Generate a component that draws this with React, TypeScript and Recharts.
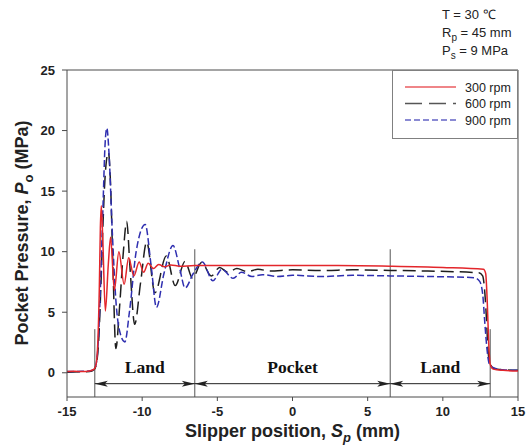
import React from 'react';
import { LineChart, Line, XAxis, YAxis, ReferenceLine, Legend } from 'recharts';

// Slipper position (mm) vs pocket pressure (MPa) for each shaft speed
const curve300: [number, number][] = [
  [-15, 0.1], [-14.5, 0.12], [-14, 0.1], [-13.5, 0.15], [-13.2, 0.3], [-13.05, 0.8],
  [-12.95, 2.5], [-12.85, 7], [-12.78, 12], [-12.72, 13.8], [-12.62, 11], [-12.45, 5.1],
  [-12.25, 9], [-12.1, 11.2], [-11.85, 6.8], [-11.55, 10.0], [-11.2, 7.3], [-10.9, 9.5],
  [-10.55, 8.0], [-10.2, 9.15], [-9.9, 8.3], [-9.6, 9.05], [-9.25, 8.6], [-8.9, 8.95],
  [-8.5, 8.75], [-8.1, 8.9], [-7.5, 8.8], [-6.5, 8.85], [-3, 8.85], [0, 8.85], [3, 8.85],
  [6.5, 8.8], [10, 8.7], [12.7, 8.55], [12.85, 8.2], [12.95, 6], [13.05, 2.5],
  [13.15, 0.7], [13.35, 0.3], [14, 0.2], [15, 0.15],
];

const curve600: [number, number][] = [
  [-15, 0.05], [-14, 0.08], [-13.5, 0.1], [-13.2, 0.25], [-13.05, 0.7], [-12.9, 2.5],
  [-12.75, 7], [-12.6, 12.5], [-12.45, 16.5], [-12.25, 18.2], [-12.1, 15.5], [-11.95, 9],
  [-11.75, 2.0], [-11.5, 5.5], [-11.25, 10], [-11.03, 12.5], [-10.8, 8.5], [-10.5, 4.0],
  [-10.1, 7.5], [-9.7, 10.8], [-9.15, 6.6], [-8.4, 9.65], [-7.8, 7.2], [-7.15, 9.2],
  [-6.65, 7.8], [-6.05, 9.1], [-5.4, 8.0], [-4.85, 8.7], [-4.3, 8.3], [-3.7, 8.6],
  [-3.0, 8.35], [-2.3, 8.55], [-1.5, 8.4], [0, 8.5], [2, 8.45], [4, 8.5], [6.5, 8.45],
  [9, 8.4], [12.4, 8.25], [12.65, 8.0], [12.8, 6.5], [12.9, 4.5], [13.0, 2.0],
  [13.12, 0.8], [13.4, 0.35], [14, 0.25], [15, 0.2],
];

const curve900: [number, number][] = [
  [-15, 0.1], [-14, 0.12], [-13.5, 0.15], [-13.2, 0.3], [-13.05, 0.8], [-12.9, 3],
  [-12.75, 8], [-12.6, 14], [-12.47, 18.8], [-12.35, 20.2], [-12.2, 18], [-12.0, 12],
  [-11.75, 6], [-11.45, 3.2], [-11.15, 2.55], [-10.85, 5], [-10.4, 10], [-9.8, 12.25],
  [-9.4, 8.8], [-9.05, 5.4], [-8.55, 8.2], [-7.95, 10.5], [-7.5, 8.6], [-7.15, 7.0],
  [-6.6, 8.2], [-6.0, 9.15], [-5.3, 7.6], [-4.7, 8.55], [-3.95, 7.8], [-3.4, 8.3],
  [-2.7, 7.95], [-2, 8.1], [-1, 7.95], [0, 8.05], [2, 7.95], [4, 8.05], [6.5, 8.0],
  [9, 7.95], [12.1, 7.85], [12.45, 7.55], [12.65, 6.5], [12.8, 4], [12.95, 1.8],
  [13.1, 0.7], [13.4, 0.4], [14, 0.25], [15, 0.2],
];

const seriesNames = ['300 rpm', '600 rpm', '900 rpm'];
const seriesColors = ['#e3262b', '#1e1e1e', '#2f2fb0'];
const seriesDash = ['', '13 6', '7 3'];
const legendDash = ['', '17 7', '6 3'];

const xTicks = [-15, -10, -5, 0, 5, 10, 15];
const yTicks = [0, 5, 10, 15, 20, 25];

// Region boundaries on the slipper face, and how high each boundary marker rises
const zoneBounds = [-13.15, -6.5, 6.5, 13.15];
const boundTops = [3.6, 10.2, 10.2, 3.6];
const zoneNames = ['Land', 'Pocket', 'Land'];
const arrowLevel = -0.9;

const conditionLines = [
  { main: 'T = 30 ', sub: '', rest: '℃' },
  { main: 'R', sub: 'p', rest: ' = 45 mm' },
  { main: 'P', sub: 's', rest: ' = 9 MPa' },
];

const toRows = (pts: [number, number][]) => pts.map(([s, p]) => ({ s, p }));
const rows = [toRows(curve300), toRows(curve600), toRows(curve900)];

const SANS = 'Liberation Sans, Arial, Helvetica, sans-serif';
const SERIF = 'Liberation Serif, Times New Roman, serif';
const AXIS = '#4a4a4a';

const zoneArrow = (label: string) => (props: any) => {
  const { x1, y1, x2 } = props;
  const y = y1;
  const head = 13;
  const half = 3;
  return (
    <g>
      <line x1={x1} y1={y} x2={x2} y2={y} stroke="#222" strokeWidth={1} />
      <polygon points={`${x1},${y} ${x1 + head},${y - half} ${x1 + head - 3},${y} ${x1 + head},${y + half}`} fill="#222" />
      <polygon points={`${x2},${y} ${x2 - head},${y - half} ${x2 - head + 3},${y} ${x2 - head},${y + half}`} fill="#222" />
      <text x={(x1 + x2) / 2} y={y - 11} textAnchor="middle" fontFamily={SERIF} fontWeight="bold" fontSize={17.5} fill="#111">
        {label}
      </text>
    </g>
  );
};

const LegendBox = () => (
  <div style={{ width: 126, height: 69, boxSizing: 'border-box', border: '1px solid #808080', background: '#fff' }}>
    <svg width={124} height={67} style={{ display: 'block' }}>
      {seriesNames.map((name, i) => {
        const cy = 16 + i * 16.5;
        return (
          <g key={name}>
            <line x1={12} x2={63} y1={cy} y2={cy} stroke={seriesColors[i]} strokeWidth={1.3} strokeDasharray={legendDash[i]} strokeOpacity={0.75} />
            <text x={72} y={cy + 4.5} fontFamily={SANS} fontSize={12.5} fill="#222">{name}</text>
          </g>
        );
      })}
    </svg>
  </div>
);

export default function App() {
  return (
    <div style={{ position: 'fixed', left: 0, top: 0, width: 527, height: 446, background: '#fff' }}>
      <LineChart width={527} height={446} margin={{ top: 70, right: 9, bottom: 0, left: 0 }}>
        <XAxis
          dataKey="s"
          type="number"
          domain={[-15, 15]}
          ticks={xTicks}
          allowDataOverflow
          height={49}
          tickSize={4}
          tickMargin={6}
          stroke={AXIS}
          tick={{ fontSize: 13, fontWeight: 'bold', fill: '#222', fontFamily: SANS }}
        />
        <YAxis
          type="number"
          domain={[-2, 25]}
          ticks={yTicks}
          allowDataOverflow
          width={67}
          tickSize={5}
          tickMargin={7}
          stroke={AXIS}
          tick={{ fontSize: 13, fontWeight: 'bold', fill: '#222', fontFamily: SANS }}
        />
        <ReferenceLine y={25} stroke={AXIS} />
        <ReferenceLine x={15} stroke={AXIS} />
        {zoneBounds.map((b, i) => (
          <ReferenceLine key={`b${i}`} segment={[{ x: b, y: -2 }, { x: b, y: boundTops[i] }]} stroke="#555" strokeWidth={1} />
        ))}
        {zoneNames.map((name, i) => (
          <ReferenceLine
            key={`z${i}`}
            segment={[{ x: zoneBounds[i], y: arrowLevel }, { x: zoneBounds[i + 1], y: arrowLevel }]}
            shape={zoneArrow(name)}
          />
        ))}
        {[1, 2, 0].map((i) => (
          <Line
            key={seriesNames[i]}
            data={rows[i]}
            dataKey="p"
            name={seriesNames[i]}
            type="monotone"
            stroke={seriesColors[i]}
            strokeWidth={1.5}
            strokeDasharray={seriesDash[i]}
            dot={false}
            activeDot={false}
            isAnimationActive={false}
          />
        ))}
        <Legend
          verticalAlign="middle"
          align="center"
          layout="horizontal"
          content={() => <LegendBox />}
          wrapperStyle={{ left: 392, top: 70, width: 126, height: 69 }}
        />
      </LineChart>
      <svg width={527} height={446} style={{ position: 'absolute', left: 0, top: 0, pointerEvents: 'none' }}>
        {conditionLines.map((c, i) => (
          <text key={i} x={442} y={19 + i * 18} fontFamily={SANS} fontSize={13} fill="#222">
            {c.main}
            {c.sub ? <tspan dy={4} fontSize={10}>{c.sub}</tspan> : null}
            {c.sub ? <tspan dy={-4}>{c.rest}</tspan> : <tspan>{c.rest}</tspan>}
          </text>
        ))}
        <text x={292.5} y={437} textAnchor="middle" fontFamily={SANS} fontWeight="bold" fontSize={18} fill="#222">
          Slipper position, <tspan fontStyle="italic">S</tspan>
          <tspan dy={5} fontSize={13} fontStyle="italic">p</tspan>
          <tspan dy={-5}> (mm)</tspan>
        </text>
        <text
          transform="translate(28, 233) rotate(-90)"
          x={0}
          y={0}
          textAnchor="middle"
          fontFamily={SANS}
          fontWeight="bold"
          fontSize={18}
          fill="#222"
        >
          Pocket Pressure, <tspan fontStyle="italic">P</tspan>
          <tspan dy={5} fontSize={13}>o</tspan>
          <tspan dy={-5}> (MPa)</tspan>
        </text>
      </svg>
    </div>
  );
}
